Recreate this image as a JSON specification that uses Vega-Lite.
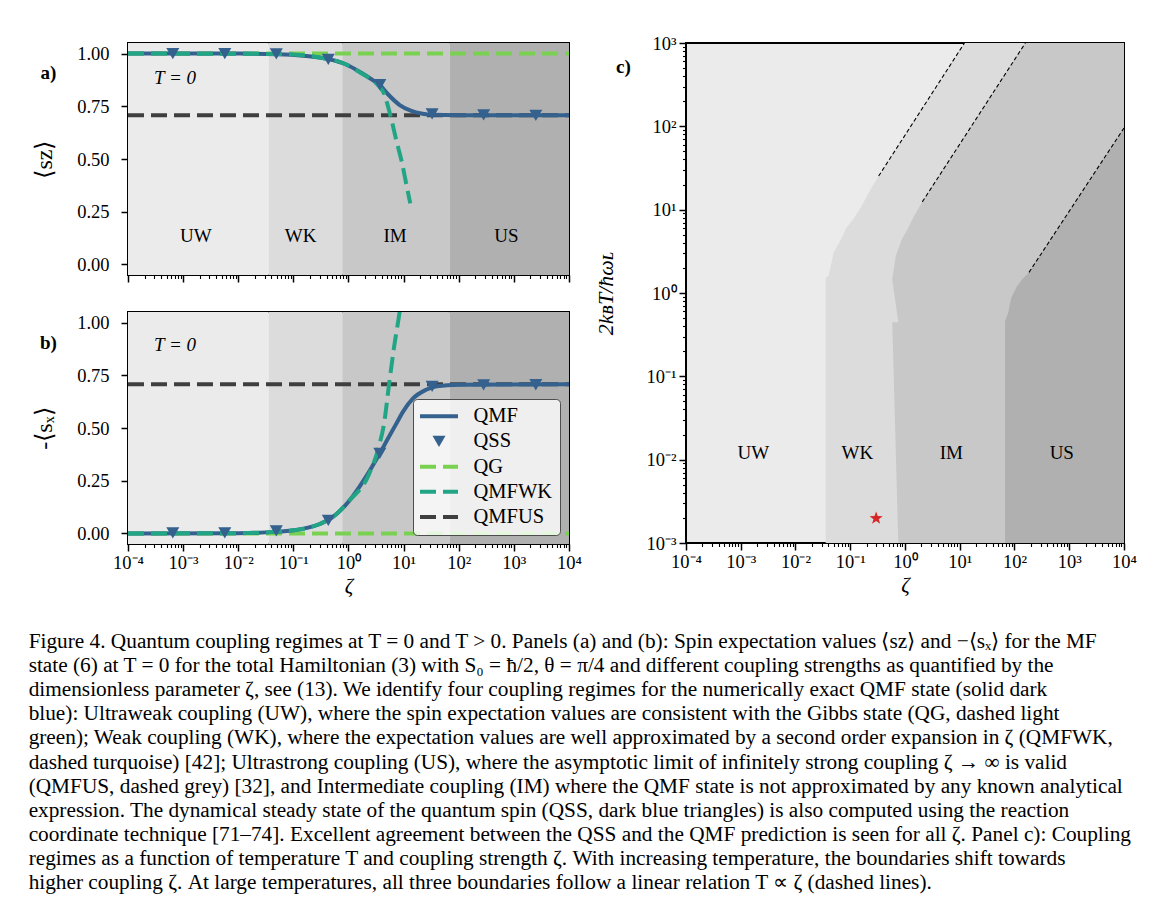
{
  "$schema": "https://vega.github.io/schema/vega-lite/v6.json",
  "background": "white",
  "padding": {"left": 28, "top": 33, "right": 5, "bottom": 5},
  "title": {
    "text": [
      "Figure 4. Quantum coupling regimes at T = 0 and T > 0. Panels (a) and (b): Spin expectation values ⟨sᴢ⟩ and −⟨sₓ⟩ for the MF",
      "state (6) at T = 0 for the total Hamiltonian (3) with S₀ = ħ/2, θ = π/4 and different coupling strengths as quantified by the",
      "dimensionless parameter ζ, see (13). We identify four coupling regimes for the numerically exact QMF state (solid dark",
      "blue): Ultraweak coupling (UW), where the spin expectation values are consistent with the Gibbs state (QG, dashed light",
      "green); Weak coupling (WK), where the expectation values are well approximated by a second order expansion in ζ (QMFWK,",
      "dashed turquoise) [42]; Ultrastrong coupling (US), where the asymptotic limit of infinitely strong coupling ζ → ∞ is valid",
      "(QMFUS, dashed grey) [32], and Intermediate coupling (IM) where the QMF state is not approximated by any known analytical",
      "expression. The dynamical steady state of the quantum spin (QSS, dark blue triangles) is also computed using the reaction",
      "coordinate technique [71–74]. Excellent agreement between the QSS and the QMF prediction is seen for all ζ. Panel c): Coupling",
      "regimes as a function of temperature T and coupling strength ζ. With increasing temperature, the boundaries shift towards",
      "higher coupling ζ. At large temperatures, all three boundaries follow a linear relation T ∝ ζ (dashed lines)."
    ],
    "orient": "bottom",
    "anchor": "start",
    "font": "Liberation Serif",
    "fontSize": 21.3,
    "fontWeight": "normal",
    "lineHeight": 24.2,
    "color": "black",
    "offset": 33,
    "dx": -3
  },
  "datasets": {
    "zones": [
      {"r": "UW", "lo": 0.0001, "hi": 0.0356, "lx": 0.0017},
      {"r": "WK", "lo": 0.0356, "hi": 0.77, "lx": 0.135},
      {"r": "IM", "lo": 0.77, "hi": 69, "lx": 7.0},
      {"r": "US", "lo": 69, "hi": 10000, "lx": 730}
    ],
    "sz": [
      {"s": "QMF", "z": 0.0001, "v": 1},
      {"s": "QMF", "z": 0.01, "v": 0.9997},
      {"s": "QMF", "z": 0.05, "v": 0.997},
      {"s": "QMF", "z": 0.15, "v": 0.99},
      {"s": "QMF", "z": 0.43, "v": 0.974},
      {"s": "QMF", "z": 0.91, "v": 0.948},
      {"s": "QMF", "z": 1.7, "v": 0.909},
      {"s": "QMF", "z": 2.8, "v": 0.873},
      {"s": "QMF", "z": 3.7, "v": 0.851},
      {"s": "QMF", "z": 5.2, "v": 0.807},
      {"s": "QMF", "z": 8.5, "v": 0.756},
      {"s": "QMF", "z": 13.8, "v": 0.728},
      {"s": "QMF", "z": 22, "v": 0.715},
      {"s": "QMF", "z": 33, "v": 0.71},
      {"s": "QMF", "z": 100, "v": 0.708},
      {"s": "QMF", "z": 10000, "v": 0.7071},
      {"s": "QMFWK", "z": 0.0001, "v": 1},
      {"s": "QMFWK", "z": 0.05, "v": 0.998},
      {"s": "QMFWK", "z": 0.43, "v": 0.974},
      {"s": "QMFWK", "z": 0.91, "v": 0.948},
      {"s": "QMFWK", "z": 1.7, "v": 0.907},
      {"s": "QMFWK", "z": 2.35, "v": 0.885},
      {"s": "QMFWK", "z": 3, "v": 0.865},
      {"s": "QMFWK", "z": 3.7, "v": 0.84},
      {"s": "QMFWK", "z": 4.47, "v": 0.807},
      {"s": "QMFWK", "z": 5.2, "v": 0.75},
      {"s": "QMFWK", "z": 6.1, "v": 0.68},
      {"s": "QMFWK", "z": 7.5, "v": 0.58},
      {"s": "QMFWK", "z": 9.2, "v": 0.49},
      {"s": "QMFWK", "z": 11, "v": 0.39},
      {"s": "QMFWK", "z": 13.2, "v": 0.29},
      {"s": "QG", "z": 0.0001, "v": 1},
      {"s": "QG", "z": 10000, "v": 1},
      {"s": "QMFUS", "z": 0.0001, "v": 0.7071},
      {"s": "QMFUS", "z": 10000, "v": 0.7071},
      {"s": "QSS", "z": 0.00065, "v": 1},
      {"s": "QSS", "z": 0.0057, "v": 1},
      {"s": "QSS", "z": 0.049, "v": 0.998},
      {"s": "QSS", "z": 0.43, "v": 0.972},
      {"s": "QSS", "z": 3.7, "v": 0.852},
      {"s": "QSS", "z": 32.9, "v": 0.714},
      {"s": "QSS", "z": 283, "v": 0.709},
      {"s": "QSS", "z": 2500, "v": 0.707}
    ],
    "sx": [
      {"s": "QMF", "z": 0.0001, "v": 0},
      {"s": "QMF", "z": 0.01, "v": 0.0015},
      {"s": "QMF", "z": 0.05, "v": 0.0075},
      {"s": "QMF", "z": 0.1, "v": 0.015},
      {"s": "QMF", "z": 0.3, "v": 0.045},
      {"s": "QMF", "z": 0.5, "v": 0.075},
      {"s": "QMF", "z": 1, "v": 0.15},
      {"s": "QMF", "z": 2, "v": 0.262},
      {"s": "QMF", "z": 3.7, "v": 0.38},
      {"s": "QMF", "z": 5.2, "v": 0.45},
      {"s": "QMF", "z": 7.2, "v": 0.516},
      {"s": "QMF", "z": 9.9, "v": 0.58},
      {"s": "QMF", "z": 14.8, "v": 0.64},
      {"s": "QMF", "z": 25, "v": 0.68},
      {"s": "QMF", "z": 40, "v": 0.698},
      {"s": "QMF", "z": 100, "v": 0.705},
      {"s": "QMF", "z": 10000, "v": 0.7071},
      {"s": "QMFWK", "z": 0.0001, "v": 0},
      {"s": "QMFWK", "z": 0.01, "v": 0.0015},
      {"s": "QMFWK", "z": 0.1, "v": 0.015},
      {"s": "QMFWK", "z": 0.5, "v": 0.075},
      {"s": "QMFWK", "z": 1, "v": 0.152},
      {"s": "QMFWK", "z": 2.35, "v": 0.28},
      {"s": "QMFWK", "z": 3.5, "v": 0.406},
      {"s": "QMFWK", "z": 4.47, "v": 0.53},
      {"s": "QMFWK", "z": 5.4, "v": 0.7},
      {"s": "QMFWK", "z": 6.65, "v": 0.877},
      {"s": "QMFWK", "z": 8.45, "v": 1.05},
      {"s": "QMFWK", "z": 9.5, "v": 1.15},
      {"s": "QG", "z": 0.0001, "v": 0},
      {"s": "QG", "z": 10000, "v": 0},
      {"s": "QMFUS", "z": 0.0001, "v": 0.7071},
      {"s": "QMFUS", "z": 10000, "v": 0.7071},
      {"s": "QSS", "z": 0.00065, "v": 0.003},
      {"s": "QSS", "z": 0.0057, "v": 0.003},
      {"s": "QSS", "z": 0.049, "v": 0.012},
      {"s": "QSS", "z": 0.43, "v": 0.062},
      {"s": "QSS", "z": 3.7, "v": 0.38},
      {"s": "QSS", "z": 32.9, "v": 0.697},
      {"s": "QSS", "z": 283, "v": 0.704},
      {"s": "QSS", "z": 2500, "v": 0.705}
    ],
    "cb": [
      {"b": "WK", "z": 0.0356, "T": 0.001},
      {"b": "WK", "z": 0.0356, "T": 1.52},
      {"b": "WK", "z": 0.04, "T": 1.6},
      {"b": "WK", "z": 0.05, "T": 3.1},
      {"b": "WK", "z": 0.063, "T": 4.0},
      {"b": "WK", "z": 0.085, "T": 6.05},
      {"b": "WK", "z": 0.115, "T": 7.8},
      {"b": "WK", "z": 0.156, "T": 10.6},
      {"b": "WK", "z": 0.226, "T": 16.8},
      {"b": "WK", "z": 0.33, "T": 25.3},
      {"b": "WK", "z": 12.2, "T": 1000},
      {"b": "IM", "z": 0.755, "T": 0.001},
      {"b": "IM", "z": 0.755, "T": 0.447},
      {"b": "IM", "z": 0.585, "T": 0.447},
      {"b": "IM", "z": 0.585, "T": 1.45},
      {"b": "IM", "z": 0.68, "T": 2.8},
      {"b": "IM", "z": 0.88, "T": 4.46},
      {"b": "IM", "z": 1.1, "T": 5.75},
      {"b": "IM", "z": 1.49, "T": 8.6},
      {"b": "IM", "z": 2.07, "T": 12.4},
      {"b": "IM", "z": 158, "T": 1000},
      {"b": "US", "z": 67.2, "T": 0.001},
      {"b": "US", "z": 67.2, "T": 0.46},
      {"b": "US", "z": 76.9, "T": 0.58},
      {"b": "US", "z": 86.9, "T": 0.87},
      {"b": "US", "z": 109, "T": 1.18},
      {"b": "US", "z": 136, "T": 1.44},
      {"b": "US", "z": 184, "T": 1.77},
      {"b": "US", "z": 10000, "T": 95.5}
    ],
    "cd": [
      {"b": "WK", "z": 0.33, "T": 25.3},
      {"b": "WK", "z": 12.2, "T": 1000},
      {"b": "IM", "z": 2.07, "T": 12.4},
      {"b": "IM", "z": 158, "T": 1000},
      {"b": "US", "z": 184, "T": 1.77},
      {"b": "US", "z": 10000, "T": 95.5}
    ]
  },
  "resolve": {"scale": {"color": "independent"}, "legend": {"color": "independent"}},
  "spacing": 10,
  "hconcat": [
    {
      "bounds": "flush",
      "spacing": 37,
      "resolve": {"scale": {"color": "independent"}, "legend": {"color": "independent"}},
      "vconcat": [
        {
          "width": 441,
          "height": 232,
          "layer": [
            {
              "data": {"name": "zones"},
              "mark": "rect",
              "encoding": {
                "x": {
                  "field": "lo", "type": "quantitative",
                  "scale": {"type": "log", "domain": [0.0001, 10000], "nice": false},
                  "axis": {
                    "title": null, "labels": false,
                    "values": [0.0001,0.0002,0.0003,0.0004,0.0005,0.0006,0.0007,0.0008,0.0009,0.001,0.002,0.003,0.004,0.005,0.006,0.007,0.008,0.009,0.01,0.02,0.03,0.04,0.05,0.06,0.07,0.08,0.09,0.1,0.2,0.3,0.4,0.5,0.6,0.7,0.8,0.9,1,2,3,4,5,6,7,8,9,10,20,30,40,50,60,70,80,90,100,200,300,400,500,600,700,800,900,1000,2000,3000,4000,5000,6000,7000,8000,9000,10000],
                    "tickSize": {"condition": {"test": "abs(log(datum.value)/LN10 - round(log(datum.value)/LN10)) < 0.000001", "value": 7}, "value": 3.5},
                    "tickWidth": {"condition": {"test": "abs(log(datum.value)/LN10 - round(log(datum.value)/LN10)) < 0.000001", "value": 1.5}, "value": 1.1}
                  }
                },
                "x2": {"field": "hi"},
                "fill": {
                  "field": "r", "type": "nominal",
                  "scale": {"domain": ["UW", "WK", "IM", "US"], "range": ["#ebebeb", "#dcdcdc", "#c8c8c8", "#b0b0b0"]},
                  "legend": null
                }
              }
            },
            {
              "data": {"name": "zones"},
              "mark": {"type": "text", "fontSize": 19, "font": "Liberation Serif", "color": "black"},
              "encoding": {
                "x": {"field": "lx", "type": "quantitative", "scale": {"type": "log", "domain": [0.0001, 10000], "nice": false}},
                "y": {
                  "datum": 0.134, "type": "quantitative",
                  "scale": {"domain": [-0.05, 1.05], "nice": false, "zero": false},
                  "axis": {
                    "values": [0, 0.25, 0.5, 0.75, 1, 1.05],
                    "labelExpr": "datum.value > 1.01 ? ' ' : format(datum.value, '.2f')",
                    "tickOpacity": {"condition": {"test": "datum.value > 1.01", "value": 0}, "value": 1},
                    "labelPadding": 12,
                    "title": "⟨sᴢ⟩", "titleFontSize": 24, "titlePadding": 20
                  }
                },
                "text": {"field": "r"}
              }
            },
            {
              "data": {"values": [{"t": "T = 0"}]},
              "mark": {"type": "text", "fontSize": 19, "font": "Liberation Serif", "fontStyle": "italic", "color": "black"},
              "encoding": {
                "x": {"datum": 0.00071, "type": "quantitative", "scale": {"type": "log", "domain": [0.0001, 10000], "nice": false}},
                "y": {"datum": 0.885, "type": "quantitative", "scale": {"domain": [-0.05, 1.05], "nice": false, "zero": false}},
                "text": {"field": "t"}
              }
            },
            {
              "data": {"values": [{"t": "a)"}]},
              "mark": {"type": "text", "fontSize": 19, "font": "Liberation Serif", "fontWeight": "bold", "color": "black"},
              "encoding": {
                "x": {"datum": 0.0000036, "type": "quantitative", "scale": {"type": "log", "domain": [0.0001, 10000], "nice": false}},
                "y": {"datum": 0.906, "type": "quantitative", "scale": {"domain": [-0.05, 1.05], "nice": false, "zero": false}},
                "text": {"field": "t"}
              }
            },
            {
              "data": {"name": "sz"},
              "transform": [{"filter": "datum.s === 'QG'"}],
              "mark": {"type": "line", "color": "#7ad151", "strokeWidth": 4, "strokeDash": [16, 7]},
              "encoding": {
                "x": {"field": "z", "type": "quantitative", "scale": {"type": "log", "domain": [0.0001, 10000], "nice": false}},
                "y": {"field": "v", "type": "quantitative", "scale": {"domain": [-0.05, 1.05], "nice": false, "zero": false}}
              }
            },
            {
              "data": {"name": "sz"},
              "transform": [{"filter": "datum.s === 'QMFUS'"}],
              "mark": {"type": "line", "color": "#3f3f3f", "strokeWidth": 4, "strokeDash": [16, 7]},
              "encoding": {
                "x": {"field": "z", "type": "quantitative", "scale": {"type": "log", "domain": [0.0001, 10000], "nice": false}},
                "y": {"field": "v", "type": "quantitative", "scale": {"domain": [-0.05, 1.05], "nice": false, "zero": false}}
              }
            },
            {
              "data": {"name": "sz"},
              "transform": [{"filter": "datum.s === 'QMF'"}],
              "mark": {"type": "line", "color": "#34618d", "strokeWidth": 4, "interpolate": "monotone"},
              "encoding": {
                "x": {"field": "z", "type": "quantitative", "scale": {"type": "log", "domain": [0.0001, 10000], "nice": false}},
                "y": {"field": "v", "type": "quantitative", "scale": {"domain": [-0.05, 1.05], "nice": false, "zero": false}}
              }
            },
            {
              "data": {"name": "sz"},
              "transform": [{"filter": "datum.s === 'QMFWK'"}],
              "mark": {"type": "line", "color": "#21a585", "strokeWidth": 4, "strokeDash": [16, 7], "interpolate": "monotone"},
              "encoding": {
                "x": {"field": "z", "type": "quantitative", "scale": {"type": "log", "domain": [0.0001, 10000], "nice": false}},
                "y": {"field": "v", "type": "quantitative", "scale": {"domain": [-0.05, 1.05], "nice": false, "zero": false}}
              }
            },
            {
              "data": {"name": "sz"},
              "transform": [{"filter": "datum.s === 'QSS'"}],
              "mark": {"type": "point", "shape": "triangle-down", "filled": true, "color": "#34618d", "size": 170, "opacity": 1},
              "encoding": {
                "x": {"field": "z", "type": "quantitative", "scale": {"type": "log", "domain": [0.0001, 10000], "nice": false}},
                "y": {"field": "v", "type": "quantitative", "scale": {"domain": [-0.05, 1.05], "nice": false, "zero": false}}
              }
            }
          ]
        },
        {
          "width": 441,
          "height": 232,
          "layer": [
            {
              "data": {"name": "zones"},
              "mark": "rect",
              "encoding": {
                "x": {
                  "field": "lo", "type": "quantitative",
                  "scale": {"type": "log", "domain": [0.0001, 10000], "nice": false},
                  "axis": {
                    "title": "ζ", "titleFontSize": 21, "titleFontStyle": "italic", "titlePadding": 4,
                    "labelFlush": false, "labelOverlap": false, "labelPadding": 2,
                    "values": [0.0001,0.0002,0.0003,0.0004,0.0005,0.0006,0.0007,0.0008,0.0009,0.001,0.002,0.003,0.004,0.005,0.006,0.007,0.008,0.009,0.01,0.02,0.03,0.04,0.05,0.06,0.07,0.08,0.09,0.1,0.2,0.3,0.4,0.5,0.6,0.7,0.8,0.9,1,2,3,4,5,6,7,8,9,10,20,30,40,50,60,70,80,90,100,200,300,400,500,600,700,800,900,1000,2000,3000,4000,5000,6000,7000,8000,9000,10000],
                    "labelExpr": "abs(log(datum.value)/LN10 - round(log(datum.value)/LN10)) < 0.000001 ? ['10⁻⁴','10⁻³','10⁻²','10⁻¹','10⁰','10¹','10²','10³','10⁴'][round(log(datum.value)/LN10) + 4] : ''",
                    "tickSize": {"condition": {"test": "abs(log(datum.value)/LN10 - round(log(datum.value)/LN10)) < 0.000001", "value": 7}, "value": 3.5},
                    "tickWidth": {"condition": {"test": "abs(log(datum.value)/LN10 - round(log(datum.value)/LN10)) < 0.000001", "value": 1.5}, "value": 1.1}
                  }
                },
                "x2": {"field": "hi"},
                "fill": {
                  "field": "r", "type": "nominal",
                  "scale": {"domain": ["UW", "WK", "IM", "US"], "range": ["#ebebeb", "#dcdcdc", "#c8c8c8", "#b0b0b0"]},
                  "legend": null
                }
              }
            },
            {
              "data": {"values": [{"t": "T = 0"}]},
              "mark": {"type": "text", "fontSize": 19, "font": "Liberation Serif", "fontStyle": "italic", "color": "black"},
              "encoding": {
                "x": {"datum": 0.00071, "type": "quantitative", "scale": {"type": "log", "domain": [0.0001, 10000], "nice": false}},
                "y": {
                  "datum": 0.893, "type": "quantitative",
                  "scale": {"domain": [-0.05, 1.05], "nice": false, "zero": false},
                  "axis": {"values": [0, 0.25, 0.5, 0.75, 1], "format": ".2f", "labelPadding": 12, "title": "-⟨sₓ⟩", "titleFontSize": 24, "titlePadding": 20}
                },
                "text": {"field": "t"}
              }
            },
            {
              "data": {"values": [{"t": "b)"}]},
              "mark": {"type": "text", "fontSize": 19, "font": "Liberation Serif", "fontWeight": "bold", "color": "black"},
              "encoding": {
                "x": {"datum": 0.0000036, "type": "quantitative", "scale": {"type": "log", "domain": [0.0001, 10000], "nice": false}},
                "y": {"datum": 0.903, "type": "quantitative", "scale": {"domain": [-0.05, 1.05], "nice": false, "zero": false}},
                "text": {"field": "t"}
              }
            },
            {
              "data": {"name": "sx"},
              "transform": [{"filter": "datum.s === 'QG'"}],
              "mark": {"type": "line", "color": "#7ad151", "strokeWidth": 4, "strokeDash": [16, 7]},
              "encoding": {
                "x": {"field": "z", "type": "quantitative", "scale": {"type": "log", "domain": [0.0001, 10000], "nice": false}},
                "y": {"field": "v", "type": "quantitative", "scale": {"domain": [-0.05, 1.05], "nice": false, "zero": false}}
              }
            },
            {
              "data": {"name": "sx"},
              "transform": [{"filter": "datum.s === 'QMFUS'"}],
              "mark": {"type": "line", "color": "#3f3f3f", "strokeWidth": 4, "strokeDash": [16, 7]},
              "encoding": {
                "x": {"field": "z", "type": "quantitative", "scale": {"type": "log", "domain": [0.0001, 10000], "nice": false}},
                "y": {"field": "v", "type": "quantitative", "scale": {"domain": [-0.05, 1.05], "nice": false, "zero": false}}
              }
            },
            {
              "data": {"name": "sx"},
              "transform": [{"filter": "datum.s === 'QMF'"}],
              "mark": {"type": "line", "strokeWidth": 4, "interpolate": "monotone"},
              "encoding": {
                "x": {"field": "z", "type": "quantitative", "scale": {"type": "log", "domain": [0.0001, 10000], "nice": false}},
                "y": {"field": "v", "type": "quantitative", "scale": {"domain": [-0.05, 1.05], "nice": false, "zero": false}},
                "color": {
                  "field": "s", "type": "nominal",
                  "scale": {"domain": ["QMF", "QSS", "QG", "QMFWK", "QMFUS"], "range": ["#34618d", "#34618d", "#7ad151", "#21a585", "#3f3f3f"]},
                  "legend": {
                    "title": null, "orient": "bottom-right", "offset": 9,
                    "padding": 7, "rowPadding": 4.2, "labelOffset": 33,
                    "labelFont": "Liberation Serif", "labelFontSize": 20.5, "labelColor": "black", "labelLimit": 300,
                    "symbolType": "stroke", "symbolSize": 150, "symbolStrokeWidth": 4,
                    "fillColor": "rgba(255,255,255,0.8)", "strokeColor": "#4d4d4d", "cornerRadius": 4,
                    "encode": {
                      "symbols": {
                        "update": {
                          "x": {"value": 19},
                          "shape": {"signal": "datum.value === 'QSS' ? 'triangle-down' : 'stroke'"},
                          "size": {"signal": "datum.value === 'QSS' ? 170 : 1444"},
                          "fill": {"signal": "datum.value === 'QSS' ? '#34618d' : 'transparent'"},
                          "strokeWidth": {"signal": "datum.value === 'QSS' ? 0 : 4"},
                          "strokeDash": {"signal": "datum.value === 'QMF' || datum.value === 'QSS' ? [1, 0] : [16, 7]"},
                          "opacity": {"value": 1}
                        }
                      }
                    }
                  }
                }
              }
            },
            {
              "data": {"name": "sx"},
              "transform": [{"filter": "datum.s === 'QMFWK'"}],
              "mark": {"type": "line", "color": "#21a585", "strokeWidth": 4, "strokeDash": [16, 7], "interpolate": "monotone", "clip": true},
              "encoding": {
                "x": {"field": "z", "type": "quantitative", "scale": {"type": "log", "domain": [0.0001, 10000], "nice": false}},
                "y": {"field": "v", "type": "quantitative", "scale": {"domain": [-0.05, 1.05], "nice": false, "zero": false}}
              }
            },
            {
              "data": {"name": "sx"},
              "transform": [{"filter": "datum.s === 'QSS'"}],
              "mark": {"type": "point", "shape": "triangle-down", "filled": true, "color": "#34618d", "size": 170, "opacity": 1},
              "encoding": {
                "x": {"field": "z", "type": "quantitative", "scale": {"type": "log", "domain": [0.0001, 10000], "nice": false}},
                "y": {"field": "v", "type": "quantitative", "scale": {"domain": [-0.05, 1.05], "nice": false, "zero": false}}
              }
            }
          ]
        }
      ]
    },
    {
      "width": 438,
      "height": 500,
      "view": {"fill": "#ebebeb", "stroke": "black", "strokeWidth": 2},
      "layer": [
        {
          "data": {"name": "cb"},
          "transform": [{"filter": "datum.b === 'WK'"}],
          "mark": {"type": "area", "orient": "horizontal", "color": "#dcdcdc", "opacity": 1},
          "encoding": {
            "y": {
              "field": "T", "type": "quantitative",
              "scale": {"type": "log", "domain": [0.001, 1000], "nice": false},
              "axis": {
                "title": "2kʙT/ħωʟ", "titleFontSize": 22, "titleFontStyle": "italic", "titlePadding": 28.5,
                "labelOverlap": false, "labelFlush": false, "labelPadding": 3,
                "values": [0.001,0.002,0.003,0.004,0.005,0.006,0.007,0.008,0.009,0.01,0.02,0.03,0.04,0.05,0.06,0.07,0.08,0.09,0.1,0.2,0.3,0.4,0.5,0.6,0.7,0.8,0.9,1,2,3,4,5,6,7,8,9,10,20,30,40,50,60,70,80,90,100,200,300,400,500,600,700,800,900,1000],
                "labelExpr": "abs(log(datum.value)/LN10 - round(log(datum.value)/LN10)) < 0.000001 ? ['10⁻⁴','10⁻³','10⁻²','10⁻¹','10⁰','10¹','10²','10³','10⁴'][round(log(datum.value)/LN10) + 4] : ''",
                "tickSize": {"condition": {"test": "abs(log(datum.value)/LN10 - round(log(datum.value)/LN10)) < 0.000001", "value": 7}, "value": 3.5},
                "tickWidth": {"condition": {"test": "abs(log(datum.value)/LN10 - round(log(datum.value)/LN10)) < 0.000001", "value": 1.5}, "value": 1.1}
              }
            },
            "x": {
              "field": "z", "type": "quantitative",
              "scale": {"type": "log", "domain": [0.0001, 10000], "nice": false},
              "axis": {
                "title": "ζ", "titleFontSize": 21, "titleFontStyle": "italic", "titlePadding": 4,
                "labelFlush": false, "labelOverlap": false, "labelPadding": 2,
                "values": [0.0001,0.0002,0.0003,0.0004,0.0005,0.0006,0.0007,0.0008,0.0009,0.001,0.002,0.003,0.004,0.005,0.006,0.007,0.008,0.009,0.01,0.02,0.03,0.04,0.05,0.06,0.07,0.08,0.09,0.1,0.2,0.3,0.4,0.5,0.6,0.7,0.8,0.9,1,2,3,4,5,6,7,8,9,10,20,30,40,50,60,70,80,90,100,200,300,400,500,600,700,800,900,1000,2000,3000,4000,5000,6000,7000,8000,9000,10000],
                "labelExpr": "abs(log(datum.value)/LN10 - round(log(datum.value)/LN10)) < 0.000001 ? ['10⁻⁴','10⁻³','10⁻²','10⁻¹','10⁰','10¹','10²','10³','10⁴'][round(log(datum.value)/LN10) + 4] : ''",
                "tickSize": {"condition": {"test": "abs(log(datum.value)/LN10 - round(log(datum.value)/LN10)) < 0.000001", "value": 7}, "value": 3.5},
                "tickWidth": {"condition": {"test": "abs(log(datum.value)/LN10 - round(log(datum.value)/LN10)) < 0.000001", "value": 1.5}, "value": 1.1}
              }
            },
            "x2": {"datum": 10000}
          }
        },
        {
          "data": {"name": "cb"},
          "transform": [{"filter": "datum.b === 'IM'"}],
          "mark": {"type": "area", "orient": "horizontal", "color": "#c8c8c8", "opacity": 1},
          "encoding": {
            "y": {"field": "T", "type": "quantitative", "scale": {"type": "log", "domain": [0.001, 1000], "nice": false}},
            "x": {"field": "z", "type": "quantitative", "scale": {"type": "log", "domain": [0.0001, 10000], "nice": false}},
            "x2": {"datum": 10000}
          }
        },
        {
          "data": {"name": "cb"},
          "transform": [{"filter": "datum.b === 'US'"}],
          "mark": {"type": "area", "orient": "horizontal", "color": "#b0b0b0", "opacity": 1},
          "encoding": {
            "y": {"field": "T", "type": "quantitative", "scale": {"type": "log", "domain": [0.001, 1000], "nice": false}},
            "x": {"field": "z", "type": "quantitative", "scale": {"type": "log", "domain": [0.0001, 10000], "nice": false}},
            "x2": {"datum": 10000}
          }
        },
        {
          "data": {"name": "cd"},
          "mark": {"type": "line", "color": "black", "strokeWidth": 1.1, "strokeDash": [4, 2.5]},
          "encoding": {
            "y": {"field": "T", "type": "quantitative", "scale": {"type": "log", "domain": [0.001, 1000], "nice": false}},
            "x": {"field": "z", "type": "quantitative", "scale": {"type": "log", "domain": [0.0001, 10000], "nice": false}},
            "detail": {"field": "b"}
          }
        },
        {
          "data": {"name": "zones"},
          "mark": {"type": "text", "fontSize": 19, "font": "Liberation Serif", "color": "black"},
          "encoding": {
            "x": {"field": "lx", "type": "quantitative", "scale": {"type": "log", "domain": [0.0001, 10000], "nice": false}},
            "y": {"datum": 0.012, "type": "quantitative", "scale": {"type": "log", "domain": [0.001, 1000], "nice": false}},
            "text": {"field": "r"}
          }
        },
        {
          "data": {"values": [{"t": "c)"}]},
          "mark": {"type": "text", "fontSize": 19, "font": "Liberation Serif", "fontWeight": "bold", "color": "black"},
          "encoding": {
            "x": {"datum": 0.0000072, "type": "quantitative", "scale": {"type": "log", "domain": [0.0001, 10000], "nice": false}},
            "y": {"datum": 510, "type": "quantitative", "scale": {"type": "log", "domain": [0.001, 1000], "nice": false}},
            "text": {"field": "t"}
          }
        },
        {
          "data": {"values": [{"z": 0.297, "T": 0.00198}]},
          "mark": {"type": "point", "shape": "M0,-1L0.235,-0.324L0.951,-0.309L0.38,0.124L0.588,0.809L0,0.4L-0.588,0.809L-0.38,0.124L-0.951,-0.309L-0.235,-0.324Z", "filled": true, "color": "#d62728", "size": 190, "opacity": 1},
          "encoding": {
            "x": {"field": "z", "type": "quantitative", "scale": {"type": "log", "domain": [0.0001, 10000], "nice": false}},
            "y": {"field": "T", "type": "quantitative", "scale": {"type": "log", "domain": [0.001, 1000], "nice": false}}
          }
        }
      ]
    }
  ],
  "config": {
    "font": "Liberation Serif",
    "view": {"stroke": "black", "strokeWidth": 2},
    "axis": {
      "domain": false, "grid": false,
      "labelFont": "Liberation Serif", "labelFontSize": 18.5, "labelColor": "black", "labelPadding": 3,
      "tickColor": "black", "tickWidth": 1.5, "tickSize": 7,
      "titleFont": "Liberation Serif", "titleFontWeight": "normal", "titleColor": "black"
    }
  }
}
